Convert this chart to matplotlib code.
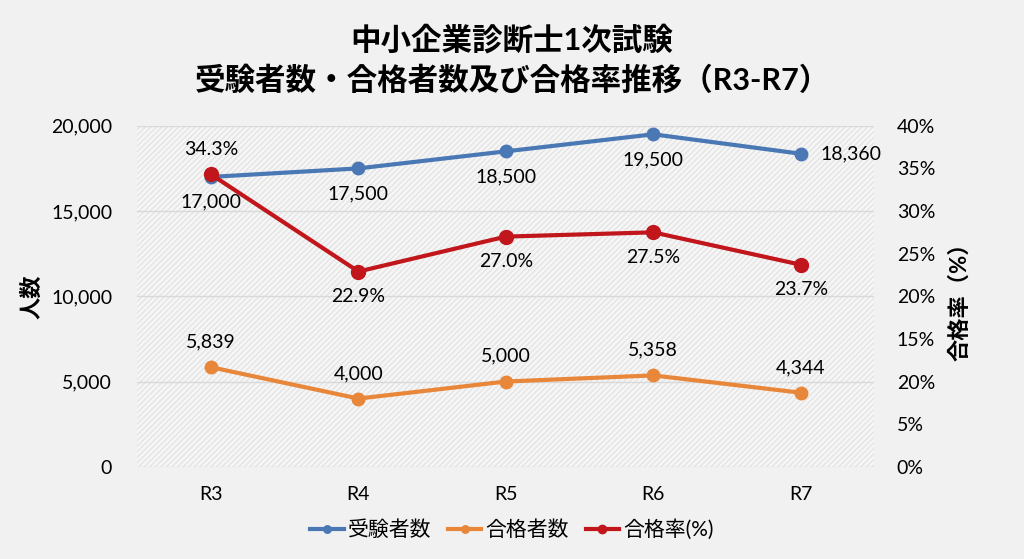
import matplotlib
matplotlib.use("Agg")
from matplotlib import pyplot as plt
from matplotlib.patches import Rectangle
from matplotlib.ticker import FixedLocator, FixedFormatter

plt.rcParams['font.family'] = ['Lato', 'Noto Sans CJK JP', 'DejaVu Sans']

# data
years = ["R3", "R4", "R5", "R6", "R7"]
applicants = [17000, 17500, 18500, 19500, 18360]
passed = [5839, 4000, 5000, 5358, 4344]
pass_rate = [34.3, 22.9, 27.0, 27.5, 23.7]

left_ticks = [0, 5000, 10000, 15000, 20000]
right_ticks = [0, 5, 10, 15, 20, 25, 30, 35, 40]
right_tick_labels = ["0%", "5%", "20%", "15%", "20%", "25%", "30%", "35%", "40%"]

blue = "#4a78b4"
orange = "#e8873a"
red = "#c0161c"

fig = plt.figure(figsize=(10.24, 5.59), dpi=100)
fig.patch.set_facecolor("#f1f1f1")
ax = fig.add_axes([0.134, 0.165, 0.72, 0.61])
ax2 = ax.twinx()

ax.set_facecolor("#f6f6f6")
# faint diagonal texture of the plot area
ax.add_patch(Rectangle((0, 0), 1, 1, transform=ax.transAxes, facecolor="none",
                       edgecolor="#e4e4e4", hatch="//////", lw=0, zorder=0))

x = list(range(len(years)))
ax.set_xlim(-0.5, len(years) - 0.5)
ax.set_ylim(0, 20000)
ax2.set_ylim(0, 40)

for t in left_ticks:
    ax.axhline(t, color="#d9d9d9", lw=1, zorder=1)

l1, = ax.plot(x, applicants, color=blue, lw=3, marker="o", ms=9, zorder=3, label="受験者数")
l2, = ax.plot(x, passed, color=orange, lw=3, marker="o", ms=9, zorder=3, label="合格者数")
l3, = ax2.plot(x, pass_rate, color=red, lw=3, marker="o", ms=10, zorder=3, label="合格率(%)")

fs = 14
# data labels
for i, v in enumerate(applicants):
    if i == len(applicants) - 1:
        ax.annotate(f"{v:,}", (x[i], v), xytext=(14, 0), textcoords="offset points",
                    ha="left", va="center", fontsize=fs)
    else:
        ax.annotate(f"{v:,}", (x[i], v), xytext=(0, -12), textcoords="offset points",
                    ha="center", va="top", fontsize=fs)
for i, v in enumerate(passed):
    ax.annotate(f"{v:,}", (x[i], v), xytext=(0, 12), textcoords="offset points",
                ha="center", va="bottom", fontsize=fs)
for i, v in enumerate(pass_rate):
    if i == 0:
        ax2.annotate(f"{v:.1f}%", (x[i], v), xytext=(0, 12), textcoords="offset points",
                     ha="center", va="bottom", fontsize=fs)
    else:
        ax2.annotate(f"{v:.1f}%", (x[i], v), xytext=(0, -12), textcoords="offset points",
                     ha="center", va="top", fontsize=fs)

ax.set_xticks(x)
ax.set_xticklabels(years, fontsize=fs)
ax.set_yticks(left_ticks)
ax.set_yticklabels([f"{t:,}" for t in left_ticks], fontsize=fs)
ax2.yaxis.set_major_locator(FixedLocator(right_ticks))
ax2.yaxis.set_major_formatter(FixedFormatter(right_tick_labels))
ax2.tick_params(axis="y", labelsize=fs)

for a in (ax, ax2):
    for s in a.spines.values():
        s.set_visible(False)
    a.tick_params(length=0)
ax.tick_params(axis="x", pad=14)
ax.tick_params(axis="y", pad=18)
ax2.tick_params(axis="y", pad=16)

ax.set_ylabel("人数", fontsize=16, fontweight="bold", labelpad=6)
ax2.set_ylabel("合格率（%）", fontsize=16, fontweight="bold", rotation=90, labelpad=10)

fig.text(0.5, 0.93, "中小企業診断士1次試験", ha="center", va="center",
         fontsize=22, fontweight="bold")
fig.text(0.5, 0.857, "受験者数・合格者数及び合格率推移（R3-R7）", ha="center", va="center",
         fontsize=22, fontweight="bold")

fig.legend(handles=[l1, l2, l3], loc="center", bbox_to_anchor=(0.5, 0.052), ncol=3,
           frameon=False, fontsize=15, handlelength=1.6, handletextpad=0.2,
           columnspacing=0.8, markerscale=0.6)

fig.savefig("out.png", dpi=100, facecolor=fig.get_facecolor())
